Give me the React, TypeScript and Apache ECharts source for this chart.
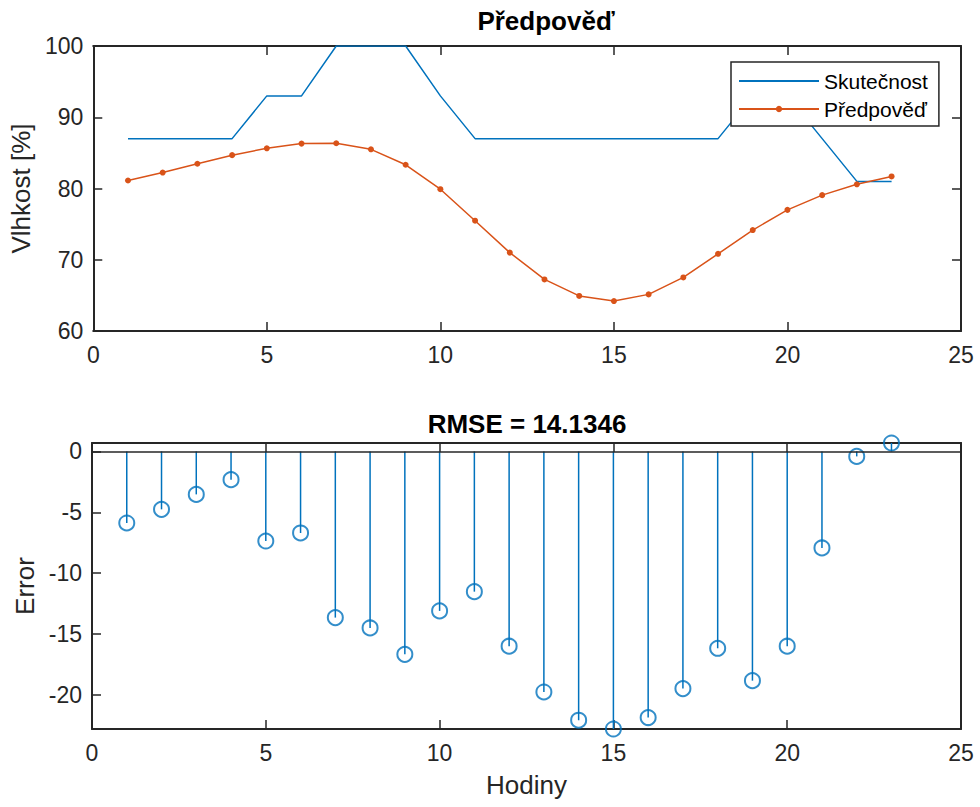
import React, { useEffect, useRef } from 'react';
import * as echarts from 'echarts';

// ---- data ----
const hours = [1, 2, 3, 4, 5, 6, 7, 8, 9, 10, 11, 12, 13, 14, 15, 16, 17, 18, 19, 20, 21, 22, 23];
const actual = [87, 87, 87, 87, 93, 93, 100, 100, 100, 93, 87, 87, 87, 87, 87, 87, 87, 87, 93, 93, 87, 81, 81];
const predicted = [
  81.12, 82.24, 83.47, 84.68, 85.64, 86.3, 86.35, 85.5, 83.33, 79.9, 75.48, 71.0,
  67.24, 64.92, 64.2, 65.14, 67.52, 70.83, 74.17, 77.0, 79.07, 80.59, 81.69,
];
const errors = [
  -5.88, -4.76, -3.53, -2.32, -7.36, -6.7, -13.65, -14.5, -16.67, -13.1, -11.52, -16.0,
  -19.76, -22.08, -22.8, -21.86, -19.48, -16.17, -18.83, -16.0, -7.93, -0.41, 0.69,
];
const topTitle = 'Předpověď';
const bottomTitle = 'RMSE = 14.1346';
const seriesNames = ['Skutečnost', 'Předpověď'];
const xTicks = { min: 0, max: 25, interval: 5 };
const topYTicks = { min: 60, max: 100, interval: 10 };

// ---- styles ----
const AXIS = '#262626';
const BLUE = '#0072BD';
const ORANGE = '#D95319';
const FONT = '"Liberation Sans", Arial, Helvetica, sans-serif';

const tick = { show: true, inside: true, length: 9, lineStyle: { color: AXIS, width: 1.5 } };
const line = { show: true, onZero: false, lineStyle: { color: AXIS, width: 2 } };
const label = { show: true, color: AXIS, fontSize: 23, fontFamily: FONT };
const nameStyle = { color: AXIS, fontSize: 26, fontFamily: FONT };

function fmt5(v: number) {
  return Math.abs(v / 5 - Math.round(v / 5)) < 1e-6 ? String(Math.round(v)) : '';
}

export default function App() {
  const ref = useRef<HTMLDivElement>(null);
  useEffect(() => {
    if (!ref.current) return;
    const chart = echarts.init(ref.current, undefined, { renderer: 'svg' });
    const xBase = (gridIndex: number, position: string, showLabel: boolean, extra: any = {}) => ({
      type: 'value',
      gridIndex,
      position,
      min: xTicks.min,
      max: xTicks.max,
      interval: xTicks.interval,
      axisLine: line,
      axisTick: tick,
      axisLabel: showLabel ? { ...label, margin: 12 } : { show: false },
      splitLine: { show: false },
      ...extra,
    });
    const option: any = {
      animation: false,
      backgroundColor: '#fff',
      grid: [
        { left: 92, right: 19, top: 46, height: 285 },
        { left: 92, right: 19, top: 443, height: 286 },
      ],
      xAxis: [
        xBase(0, 'bottom', true),
        xBase(0, 'top', false),
        xBase(1, 'bottom', true, {
          name: 'Hodiny',
          nameLocation: 'middle',
          nameGap: 43,
          nameTextStyle: nameStyle,
        }),
        xBase(1, 'top', false),
      ],
      yAxis: [
        {
          type: 'value',
          gridIndex: 0,
          position: 'left',
          min: topYTicks.min,
          max: topYTicks.max,
          interval: topYTicks.interval,
          axisLine: line,
          axisTick: tick,
          axisLabel: { ...label, margin: 10 },
          splitLine: { show: false },
          name: 'Vlhkost [%]',
          nameLocation: 'middle',
          nameGap: 54,
          nameTextStyle: nameStyle,
        },
        {
          type: 'value',
          gridIndex: 0,
          position: 'right',
          min: topYTicks.min,
          max: topYTicks.max,
          interval: topYTicks.interval,
          axisLine: line,
          axisTick: tick,
          axisLabel: { show: false },
          splitLine: { show: false },
        },
        {
          type: 'value',
          gridIndex: 1,
          position: 'left',
          min: 'dataMin',
          max: 'dataMax',
          splitNumber: 5,
          axisLine: line,
          axisTick: tick,
          axisLabel: { ...label, margin: 10, formatter: fmt5, showMinLabel: false, showMaxLabel: false },
          splitLine: { show: false },
          name: 'Error',
          nameLocation: 'middle',
          nameGap: 52,
          nameTextStyle: nameStyle,
        },
        {
          type: 'value',
          gridIndex: 1,
          position: 'right',
          min: 'dataMin',
          max: 'dataMax',
          splitNumber: 5,
          axisLine: line,
          axisTick: tick,
          axisLabel: { show: false },
          splitLine: { show: false },
        },
      ],
      legend: {
        data: [
          { name: seriesNames[0], itemStyle: { opacity: 0, color: 'rgba(0,0,0,0)', borderWidth: 0 } },
          { name: seriesNames[1] },
        ],
        orient: 'vertical',
        left: 731,
        top: 62,
        itemWidth: 80,
        itemHeight: 8,
        itemGap: 4,
        padding: [7, 11, 5, 7],
        borderColor: AXIS,
        borderWidth: 1.5,
        backgroundColor: '#fff',
        textStyle: { fontSize: 21, color: '#000', fontFamily: FONT, lineHeight: 24 },
      },
      graphic: [
        {
          type: 'text',
          x: 546,
          y: 21,
          style: {
            text: topTitle,
            textAlign: 'center',
            textVerticalAlign: 'middle',
            font: `bold 26px ${FONT}`,
            fill: '#000',
          },
        },
        {
          type: 'text',
          x: 527,
          y: 424,
          style: {
            text: bottomTitle,
            textAlign: 'center',
            textVerticalAlign: 'middle',
            font: `bold 26px ${FONT}`,
            fill: '#000',
          },
        },
      ],
      series: [
        {
          name: seriesNames[0],
          type: 'line',
          xAxisIndex: 0,
          yAxisIndex: 0,
          data: hours.map((h, i) => [h, actual[i]]),
          symbol: 'none',
          lineStyle: { color: BLUE, width: 1.5 },
          itemStyle: { color: BLUE },
          z: 3,
        },
        {
          name: seriesNames[1],
          type: 'line',
          xAxisIndex: 0,
          yAxisIndex: 0,
          data: hours.map((h, i) => [h, predicted[i]]),
          symbol: 'circle',
          symbolSize: 6,
          lineStyle: { color: ORANGE, width: 1.5 },
          itemStyle: { color: ORANGE },
          z: 3,
        },
        {
          name: 'stems',
          type: 'custom',
          xAxisIndex: 2,
          yAxisIndex: 2,
          clip: false,
          data: hours.map((h, i) => [h, errors[i]]),
          encode: { x: 0, y: 1 },
          renderItem: (params: any, api: any) => {
            const x = api.value(0);
            const y = api.value(1);
            const p0 = api.coord([x, 0]);
            const p1 = api.coord([x, y]);
            return {
              type: 'line',
              shape: { x1: p0[0], y1: p0[1], x2: p1[0], y2: p1[1] },
              style: { stroke: BLUE, lineWidth: 1.5 },
            };
          },
          z: 3,
        },
        {
          name: 'Error',
          type: 'scatter',
          xAxisIndex: 2,
          yAxisIndex: 2,
          clip: false,
          data: hours.map((h, i) => [h, errors[i]]),
          symbol: 'circle',
          symbolSize: 15,
          itemStyle: { color: 'rgba(0,0,0,0)', borderColor: BLUE, borderWidth: 2 },
          markLine: {
            silent: true,
            symbol: ['none', 'none'],
            label: { show: false },
            lineStyle: { color: AXIS, width: 1.5, type: 'solid' },
            data: [{ yAxis: 0 }],
          },
          z: 4,
        },
      ],
    };
    chart.setOption(option);
    return () => chart.dispose();
  }, []);
  return (
    <div
      ref={ref}
      style={{ position: 'absolute', left: 0, top: 0, width: 980, height: 807, background: '#fff' }}
    />
  );
}
